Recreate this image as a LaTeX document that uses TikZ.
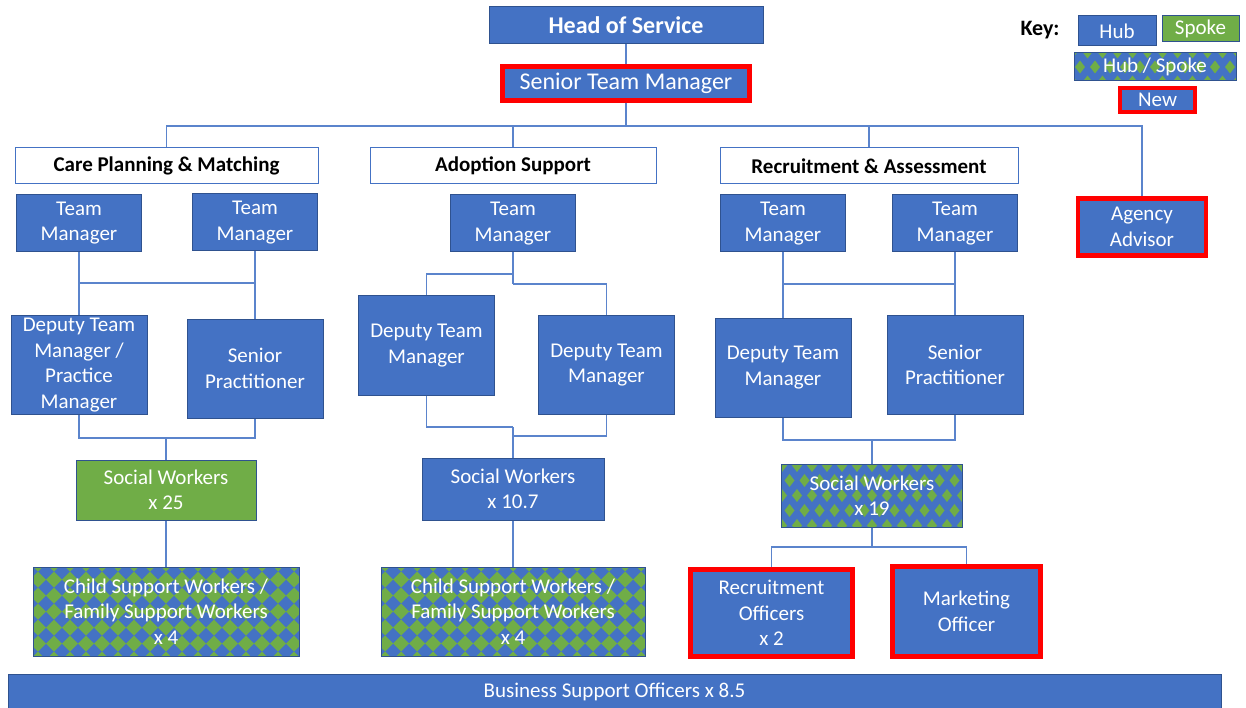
\documentclass[tikz,border=0pt]{standalone}
\usepackage{fontspec}
\setmainfont{Carlito}

\definecolor{hubblue}{HTML}{4472C4}
\definecolor{hubedge}{HTML}{2F528F}
\definecolor{spokegreen}{HTML}{70AD47}
\definecolor{newred}{HTML}{FF0000}
\definecolor{linkblue}{HTML}{5B84CC}

% blue and green checker of diamonds: #1 centre, #2 half width, #3 half height
\newcommand{\mixfill}[3]{%
  \begin{scope}[shift={#1}]
    \clip (-#2,-#3) rectangle (#2,#3);
    \fill[hubblue] (-#2,-#3) rectangle (#2,#3);
    \foreach \i in {-9,...,9}
    \foreach \j in {-3,...,3}
    \fill[spokegreen] (\i*16,\j*16-8) -- ++(8,8) -- ++(-8,8)
      -- ++(-8,-8) -- cycle;
  \end{scope}}

% small green diamonds on blue: #1 centre, #2 half width, #3 half height
\newcommand{\hubspokefill}[3]{%
  \begin{scope}[shift={#1}]
    \clip (-#2,-#3) rectangle (#2,#3);
    \fill[hubblue] (-#2,-#3) rectangle (#2,#3);
    \foreach \i in {-7,...,7}
    \foreach \j in {-4,-2,0,2} {
      \fill[spokegreen] (\i*15,\j*15-6.5) -- ++(5,6.5) -- ++(-5,6.5)
        -- ++(-5,-6.5) -- cycle;
      \fill[spokegreen] (\i*15+7.5,\j*15+8.5) -- ++(5,6.5) -- ++(-5,6.5)
        -- ++(-5,-6.5) -- cycle;
    }
  \end{scope}}

\begin{document}
\begin{tikzpicture}[
    x=1pt, y=-1pt,
    box/.style={
      draw=hubedge,
      fill=hubblue,
      text=white,
      align=center,
      inner sep=1pt,
      line width=1pt,
      font=\fontsize{21}{25.5}\selectfont
    },
    spokebox/.style={box, fill=spokegreen},
    mixbox/.style={box, fill=none},
    newbox/.style={box, draw=newred, line width=4.5pt},
    teambox/.style={
      draw=hubblue,
      fill=white,
      line width=1pt,
      align=center,
      font=\fontsize{21}{25.5}\selectfont\bfseries
    },
    tm/.style={minimum width=125pt, minimum height=57pt},
    dtm/.style={minimum width=136pt, minimum height=99pt},
    conn/.style={draw=linkblue, line width=1.5pt}
  ]

  \useasboundingbox (0,0) rectangle (1246,708);

  % top of the chart
  \node[box, minimum width=274pt, minimum height=37pt,
    font=\fontsize{24}{28}\selectfont\bfseries]
  (hos) at (626,25.5) {Head of Service};

  \node[newbox, minimum width=247pt, minimum height=34pt,
    font=\fontsize{24}{28}\selectfont]
  (stm) at (626,83.5) {Senior Team Manager};

  % team headings
  \node[teambox, minimum width=303pt, minimum height=36pt]
  (cpm) at (166.5,166) {Care Planning \& Matching};
  \node[teambox, minimum width=286pt, minimum height=36pt]
  (ads) at (513,166) {Adoption Support};
  \node[teambox, minimum width=298pt, minimum height=36pt]
  (rna) at (869,166) {Recruitment \& Assessment};

  % care planning & matching
  \node[box, tm] (cptm1) at (79,223) {Team\\Manager};
  \node[box, tm] (cptm2) at (255,222.5) {Team\\Manager};
  \node[box, dtm] (cpdtm) at (79,365)
  {Deputy Team\\Manager /\\Practice\\Manager};
  \node[box, dtm] (cpsp) at (255,368.5) {Senior\\Practitioner};
  \node[spokebox, minimum width=180pt, minimum height=60pt]
  (cpsw) at (166,490) {Social Workers\\x 25};
  \mixfill{(166,611.5)}{133}{44.5}
  \node[mixbox, minimum width=266pt, minimum height=89pt]
  (cpcsw) at (166,611.5)
  {Child Support Workers /\\Family Support Workers\\x 4};

  % adoption support
  \node[box, tm] (adtm) at (513,223.5) {Team\\Manager};
  \node[box, dtm] (addtm1) at (426.5,345.5) {Deputy Team\\Manager};
  \node[box, dtm] (addtm2) at (606.5,365) {Deputy Team\\Manager};
  \node[box, minimum width=182pt, minimum height=62pt]
  (adsw) at (513,489) {Social Workers\\x 10.7};
  \mixfill{(513,611.5)}{132}{44.5}
  \node[mixbox, minimum width=264pt, minimum height=89pt]
  (adcsw) at (513,611.5)
  {Child Support Workers /\\Family Support Workers\\x 4};

  % recruitment & assessment
  \node[box, tm] (ratm1) at (783,223.5) {Team\\Manager};
  \node[box, tm] (ratm2) at (955,223.5) {Team\\Manager};
  \node[box, dtm] (radtm) at (783,367.5) {Deputy Team\\Manager};
  \node[box, dtm] (rasp) at (955,365) {Senior\\Practitioner};
  \hubspokefill{(872,495.5)}{90.5}{31.5}
  \node[mixbox, minimum width=181pt, minimum height=63pt]
  (rasw) at (872,495.5) {Social Workers\\x 19};
  \node[newbox, minimum width=162pt, minimum height=87pt]
  (raro) at (771.5,613) {Recruitment\\Officers\\x 2};
  \node[newbox, minimum width=148pt, minimum height=90pt]
  (ramo) at (966.5,611.5) {Marketing\\Officer};

  % agency advisor
  \node[newbox, minimum width=128pt, minimum height=57pt]
  (aa) at (1142,227) {Agency\\Advisor};

  % business support
  \node[box, minimum width=1213pt, minimum height=36pt]
  (bso) at (614.5,692) {Business Support Officers x 8.5};

  % key
  \node[font=\fontsize{22}{26}\selectfont\bfseries]
  (keylbl) at (1040,30) {Key:};
  \node[box, minimum width=78pt, minimum height=30pt]
  (khub) at (1117,31) {Hub};
  \node[spokebox, minimum width=77pt, minimum height=26pt]
  (kspoke) at (1200.5,29) {Spoke};
  \hubspokefill{(1155,67)}{81}{14}
  \node[mixbox, minimum width=162pt, minimum height=28pt]
  (khs) at (1155,67) {Hub / Spoke};
  \node[newbox, line width=3.5pt, minimum width=75pt, minimum height=24pt]
  (knew) at (1157.5,100) {New};

  % connectors
  \coordinate (bus) at (626,126);
  \draw[conn] (hos) -- (stm);
  \draw[conn] (stm) -- (bus);
  \draw[conn] (cpm.north) |- (bus) -| (aa.north);
  \draw[conn] (ads.north) -- (ads.north |- bus);
  \draw[conn] (rna.north) -- (rna.north |- bus);

  \coordinate (cpjoin) at (166,283);
  \coordinate (cpmerge) at (166,438);
  \draw[conn] (cptm1) -- (cpdtm);
  \draw[conn] (cptm2) -- (cpsp);
  \draw[conn] (cptm1.south |- cpjoin) -- (cptm2.south |- cpjoin);
  \draw[conn] (cpdtm.south) |- (cpmerge) -| (cpsp.south);
  \draw[conn] (cpmerge) -- (cpsw);
  \draw[conn] (cpsw) -- (cpcsw);

  \coordinate (adsplitl) at (513,274);
  \coordinate (adsplitr) at (513,284);
  \coordinate (admergel) at (513,427);
  \coordinate (admerger) at (513,436);
  \draw[conn] (adtm) -- (adsplitr);
  \draw[conn] (adsplitl) -| (addtm1.north);
  \draw[conn] (adsplitr) -| (addtm2.north);
  \draw[conn] (addtm1.south) |- (admergel);
  \draw[conn] (addtm2.south) |- (admerger);
  \draw[conn] (admergel) -- (adsw);
  \draw[conn] (adsw) -- (adcsw);

  \coordinate (rajoin) at (872,284);
  \coordinate (ramerge) at (872,440);
  \coordinate (rasplit) at (872,547);
  \draw[conn] (ratm1) -- (radtm);
  \draw[conn] (ratm2) -- (rasp);
  \draw[conn] (ratm1.south |- rajoin) -- (ratm2.south |- rajoin);
  \draw[conn] (radtm.south) |- (ramerge) -| (rasp.south);
  \draw[conn] (ramerge) -- (rasw);
  \draw[conn] (rasw) -- (rasplit);
  \draw[conn] (raro.north) |- (rasplit) -| (ramo.north);

\end{tikzpicture}
\end{document}
